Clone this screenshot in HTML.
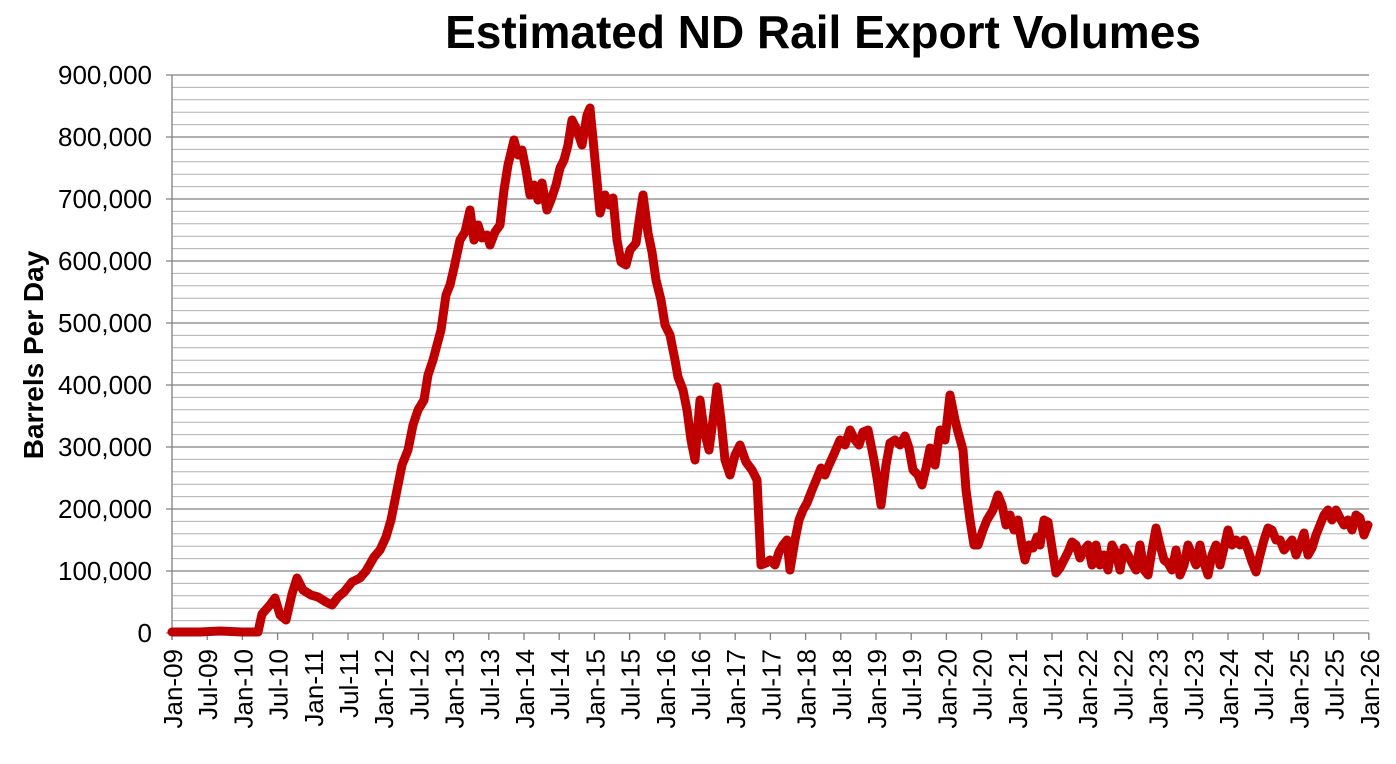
<!DOCTYPE html>
<html><head><meta charset="utf-8"><style>
html,body{margin:0;padding:0;background:#fff;}
svg{display:block;font-family:"Liberation Sans",Arial,sans-serif;}
</style></head><body>
<svg width="1396" height="764" viewBox="0 0 1396 764">
<rect width="1396" height="764" fill="#fff"/>
<text x="823" y="48" text-anchor="middle" font-size="46" font-weight="bold">Estimated ND Rail Export Volumes</text>
<g stroke="#b0b0b0" stroke-width="1">
<line x1="172" x2="1369" y1="87.4" y2="87.4"/><line x1="172" x2="1369" y1="99.8" y2="99.8"/><line x1="172" x2="1369" y1="112.2" y2="112.2"/><line x1="172" x2="1369" y1="124.6" y2="124.6"/>
<line x1="172" x2="1369" y1="149.4" y2="149.4"/><line x1="172" x2="1369" y1="161.8" y2="161.8"/><line x1="172" x2="1369" y1="174.2" y2="174.2"/><line x1="172" x2="1369" y1="186.6" y2="186.6"/>
<line x1="172" x2="1369" y1="211.4" y2="211.4"/><line x1="172" x2="1369" y1="223.8" y2="223.8"/><line x1="172" x2="1369" y1="236.2" y2="236.2"/><line x1="172" x2="1369" y1="248.6" y2="248.6"/>
<line x1="172" x2="1369" y1="273.4" y2="273.4"/><line x1="172" x2="1369" y1="285.8" y2="285.8"/><line x1="172" x2="1369" y1="298.2" y2="298.2"/><line x1="172" x2="1369" y1="310.6" y2="310.6"/>
<line x1="172" x2="1369" y1="335.4" y2="335.4"/><line x1="172" x2="1369" y1="347.8" y2="347.8"/><line x1="172" x2="1369" y1="360.2" y2="360.2"/><line x1="172" x2="1369" y1="372.6" y2="372.6"/>
<line x1="172" x2="1369" y1="397.4" y2="397.4"/><line x1="172" x2="1369" y1="409.8" y2="409.8"/><line x1="172" x2="1369" y1="422.2" y2="422.2"/><line x1="172" x2="1369" y1="434.6" y2="434.6"/>
<line x1="172" x2="1369" y1="459.4" y2="459.4"/><line x1="172" x2="1369" y1="471.8" y2="471.8"/><line x1="172" x2="1369" y1="484.2" y2="484.2"/><line x1="172" x2="1369" y1="496.6" y2="496.6"/>
<line x1="172" x2="1369" y1="521.4" y2="521.4"/><line x1="172" x2="1369" y1="533.8" y2="533.8"/><line x1="172" x2="1369" y1="546.2" y2="546.2"/><line x1="172" x2="1369" y1="558.6" y2="558.6"/>
<line x1="172" x2="1369" y1="583.4" y2="583.4"/><line x1="172" x2="1369" y1="595.8" y2="595.8"/><line x1="172" x2="1369" y1="608.2" y2="608.2"/><line x1="172" x2="1369" y1="620.6" y2="620.6"/>
</g>
<g stroke="#808080" stroke-width="1.3">
<line x1="166" x2="1369" y1="75" y2="75"/><line x1="166" x2="1369" y1="137" y2="137"/><line x1="166" x2="1369" y1="199" y2="199"/><line x1="166" x2="1369" y1="261" y2="261"/><line x1="166" x2="1369" y1="323" y2="323"/><line x1="166" x2="1369" y1="385" y2="385"/><line x1="166" x2="1369" y1="447" y2="447"/><line x1="166" x2="1369" y1="509" y2="509"/><line x1="166" x2="1369" y1="571" y2="571"/><line x1="166" x2="1369" y1="633" y2="633"/>
<line x1="172" x2="172" y1="75" y2="640"/>
</g>
<g font-size="26" text-anchor="end">
<text x="152" y="84">900,000</text><text x="152" y="146">800,000</text><text x="152" y="208">700,000</text><text x="152" y="270">600,000</text><text x="152" y="332">500,000</text><text x="152" y="394">400,000</text><text x="152" y="456">300,000</text><text x="152" y="518">200,000</text><text x="152" y="580">100,000</text><text x="152" y="642">0</text>
</g>
<text transform="translate(43,355) rotate(-90)" text-anchor="middle" font-size="28" font-weight="bold">Barrels Per Day</text>
<g id="ticks" stroke="#808080" stroke-width="1.3"></g>
<g id="xl" font-size="26" text-anchor="end"></g>
<polyline fill="none" stroke="#c00000" stroke-width="9" stroke-linejoin="round" stroke-linecap="round" points="172,632 200,632 220,631 242,632 258,632 262,614 270,605 275,598 280,615 286,620 292,594 297,578 303,590 311,595 318,597 326,602 332,605 338,597 344,592 352,582 360,578 366,571 374,557 380,550 386,537 391,520 397,490 402,465 408,450 413,425 418,410 424,400 428,375 433,360 437,345 441,330 446,295 450,285 454,268 460,240 465,232 470,210 474,240 478,225 482,238 487,235 490,245 495,232 500,225 504,190 508,165 514,140 518,155 522,150 526,170 530,195 534,185 538,200 542,183 547,210 551,200 556,185 560,168 564,160 568,145 572,120 577,130 582,145 587,115 590,108 595,160 600,213 605,195 609,205 613,198 617,240 621,262 626,265 630,250 636,243 640,215 643,195 648,233 652,252 656,280 661,300 665,325 670,335 675,360 678,377 683,390 687,410 691,440 695,460 700,400 704,430 709,450 713,420 717,387 721,420 725,460 730,475 735,455 740,445 746,462 752,470 757,480 761,565 766,563 770,560 775,565 779,552 783,545 787,540 790,570 795,540 799,520 803,510 807,503 812,490 817,478 821,468 825,475 829,465 834,454 840,440 845,445 850,430 855,440 859,445 863,432 868,430 874,460 877,478 881,505 886,465 890,443 895,440 900,445 905,436 909,448 913,470 918,475 922,485 926,468 930,448 935,465 940,430 945,440 950,395 955,420 958,432 963,450 966,490 970,520 974,545 978,545 983,530 987,520 993,510 998,495 1002,505 1006,525 1010,515 1014,530 1018,520 1022,545 1025,560 1029,545 1033,548 1037,537 1040,545 1044,520 1048,522 1052,548 1056,573 1060,568 1064,560 1068,552 1072,542 1076,545 1080,558 1084,550 1088,545 1092,565 1096,545 1100,565 1104,555 1108,570 1112,545 1116,553 1120,570 1124,548 1128,555 1132,563 1136,570 1140,545 1144,570 1148,575 1152,550 1156,528 1160,545 1164,560 1168,563 1172,570 1176,550 1180,575 1184,565 1188,545 1192,555 1196,565 1200,545 1204,563 1208,575 1212,555 1216,545 1220,565 1224,548 1228,530 1232,545 1236,540 1240,545 1244,540 1248,550 1252,562 1256,572 1260,555 1264,540 1268,528 1272,530 1276,540 1280,540 1284,550 1288,545 1292,540 1296,555 1300,545 1304,533 1308,555 1312,548 1316,535 1320,525 1324,515 1328,510 1332,520 1336,510 1340,518 1344,525 1348,520 1352,530 1356,515 1360,518 1364,535 1368,525"/>
<script>
var t=document.getElementById('ticks'),xl=document.getElementById('xl'),ns='http://www.w3.org/2000/svg';
for(var i=0;i<=34;i++){var x=172+i*35.2;var l=document.createElementNS(ns,'line');l.setAttribute('x1',x);l.setAttribute('x2',x);l.setAttribute('y1',633);l.setAttribute('y2',640);t.appendChild(l);
var yr=9+Math.floor(i/2);var s=(i%2?'Jul-':'Jan-')+(yr<10?'0'+yr:yr);var tx=document.createElementNS(ns,'text');tx.setAttribute('transform','translate('+(x+10)+',649) rotate(-90)');tx.textContent=s;xl.appendChild(tx);}
</script>
</svg>
</body></html>
